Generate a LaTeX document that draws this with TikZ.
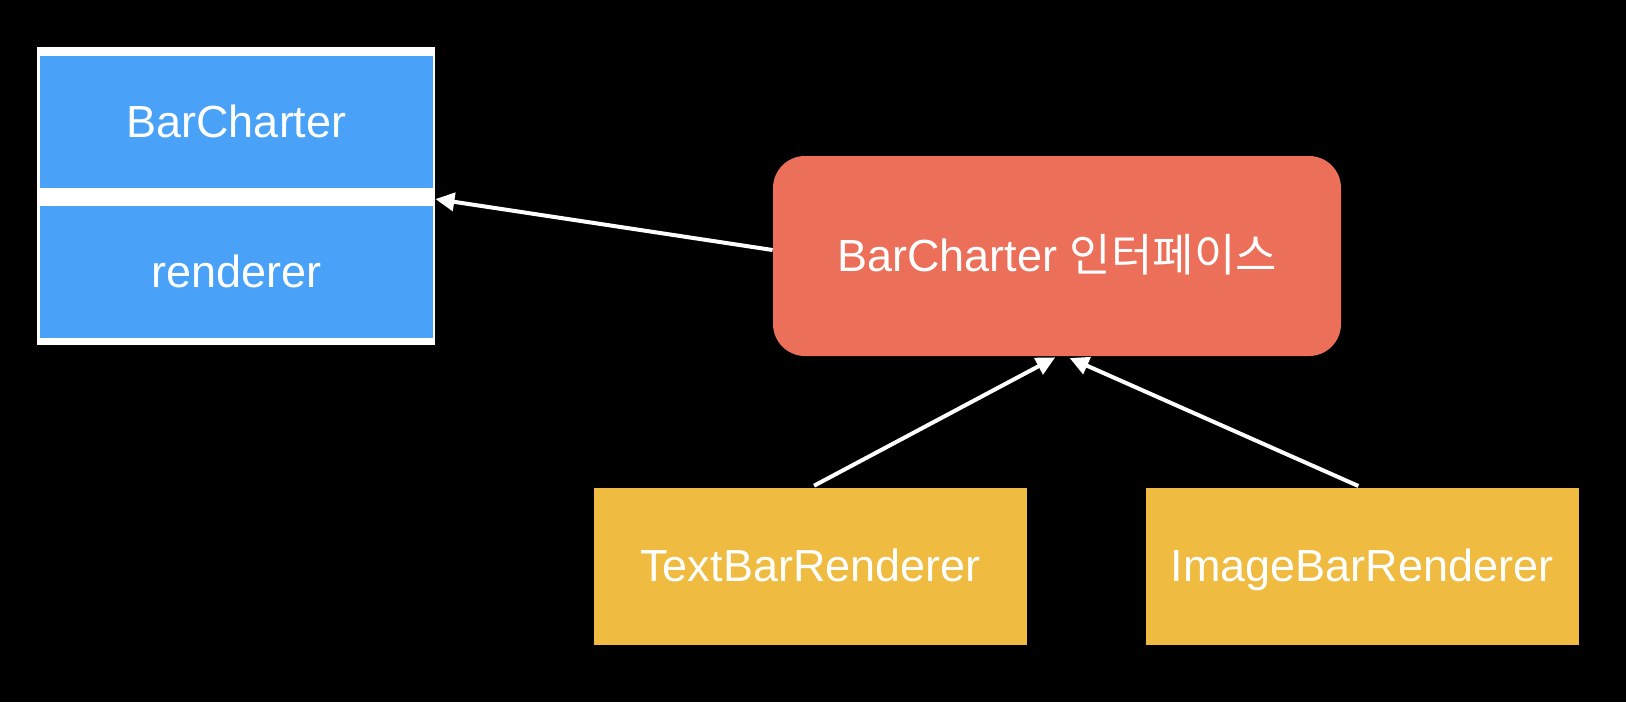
\documentclass[tikz,border=0pt]{standalone}
\usepackage{fontspec}
\setmainfont{Liberation Sans}
\newfontfamily\cjk{Noto Sans CJK KR}
\usetikzlibrary{arrows.meta}
\definecolor{fieldblue}{RGB}{73,162,248}
\definecolor{ifacered}{RGB}{236,111,90}
\definecolor{implyellow}{RGB}{239,187,64}

\begin{document}
\begin{tikzpicture}
    [x=0.5pt,y=-0.5pt,
    every node/.style={font=\fontsize{22.5}{27}\selectfont,text=white,inner sep=0pt,text height=15pt,text depth=0pt},
    field/.style={fill=fieldblue,minimum width=196.5pt,minimum height=66pt},
    impl/.style={fill=implyellow,minimum width=216.5pt,minimum height=78.5pt},
    link/.style={draw=white,line width=2pt,-{Triangle[length=9.5pt,width=9pt]}}]
\fill [black] (0,0) rectangle (1626,702);
\useasboundingbox (0,0) rectangle (1626,702);
\path
    (236,196) node [fill=white,minimum width=199pt,minimum height=149pt] (charter) {}
    (236.5,122) node [field] (name) {BarCharter}
    (236.5,272) node [field] (renderer) {renderer};
\path
    (1057,256) node [fill=ifacered,rounded corners=16pt,minimum width=284pt,minimum height=100pt] (iface) {BarCharter {\cjk 인터페이스}};
\path
    (810.5,566.5) node [impl] (textr) {TextBarRenderer}
    (1362,566.5) node [impl] (imager) {ImageBarRenderer};
\draw [link] ([yshift=3pt]iface.west) -- ([yshift=-1.5pt]charter.east);
\draw [link,shorten <=2pt,shorten >=1pt] (textr.north) -- (iface.south);
\draw [link,shorten <=2pt,shorten >=2pt] (imager.north) -- ([xshift=4.5pt]iface.south);
\end{tikzpicture}
\end{document}
